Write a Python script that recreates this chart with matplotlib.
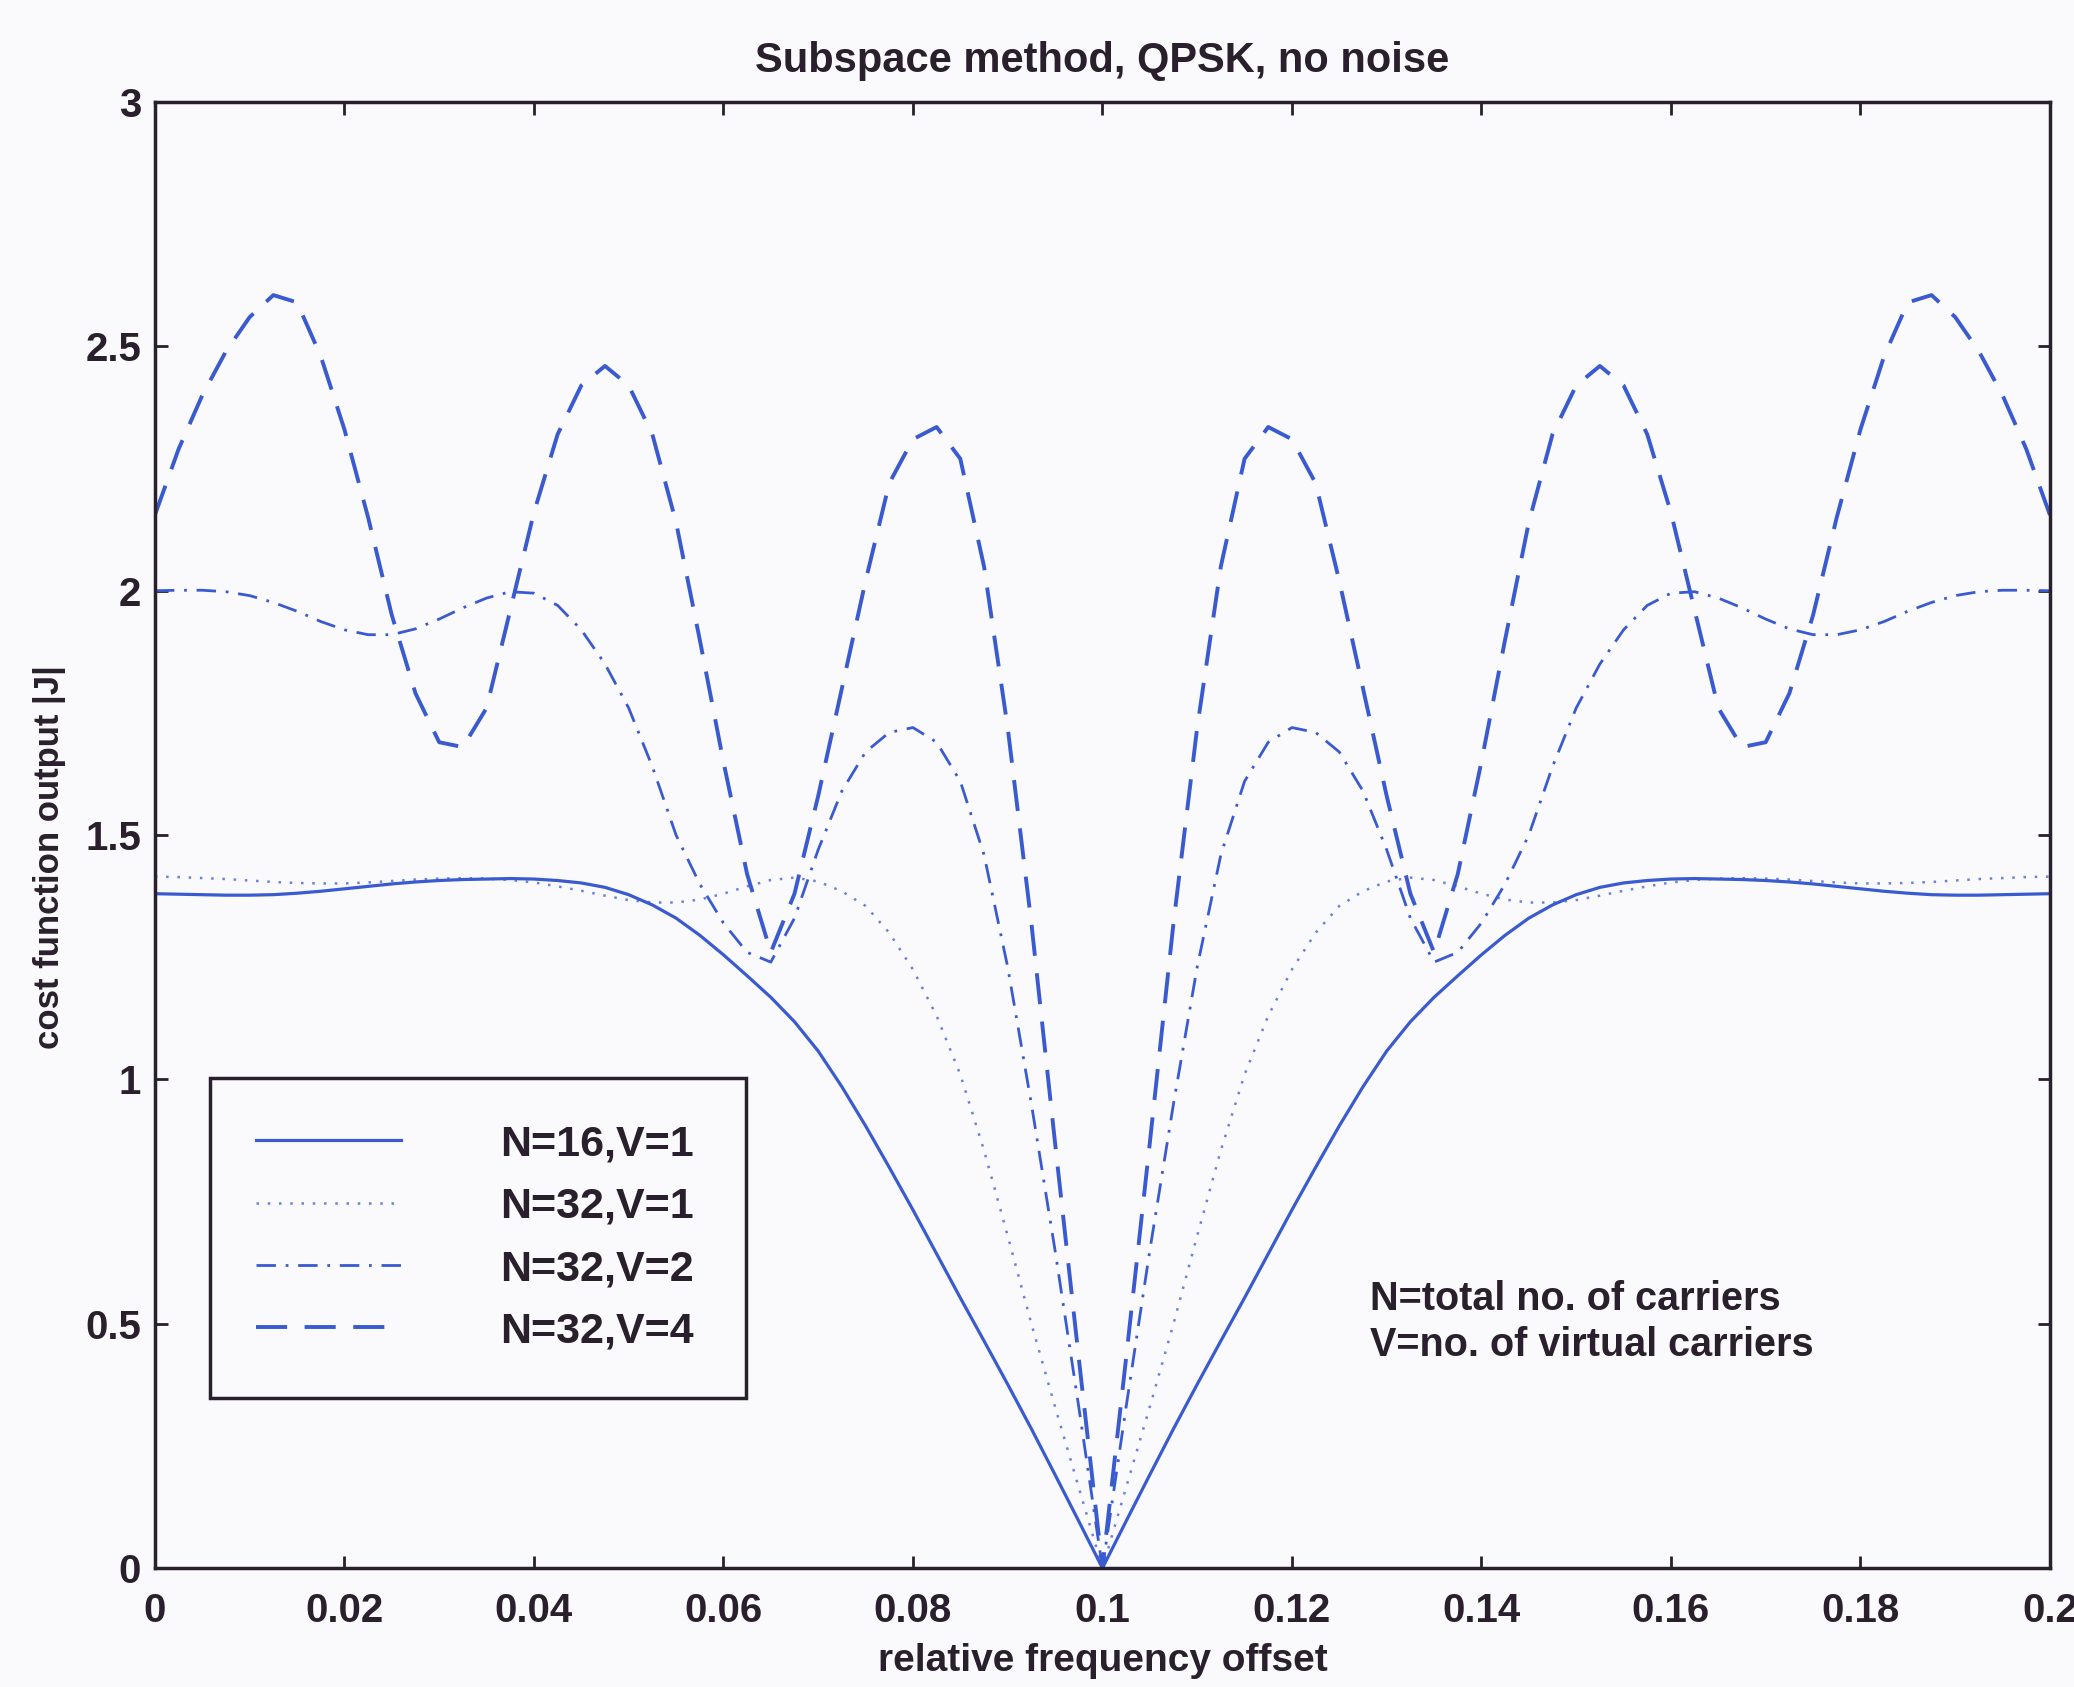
import matplotlib
matplotlib.use("Agg")
import matplotlib.pyplot as plt

# relative frequency offset grid
offset = [0.0, 0.0025, 0.005, 0.0075, 0.01, 0.0125, 0.015, 0.0175, 0.02, 0.0225,
          0.025, 0.0275, 0.03, 0.0325, 0.035, 0.0375, 0.04, 0.0425, 0.045, 0.0475,
          0.05, 0.0525, 0.055, 0.0575, 0.06, 0.0625, 0.065, 0.0675, 0.07, 0.0725,
          0.075, 0.0775, 0.08, 0.0825, 0.085, 0.0875, 0.09, 0.0925, 0.095, 0.0975,
          0.1, 0.1025, 0.105, 0.1075, 0.11, 0.1125, 0.115, 0.1175, 0.12, 0.1225,
          0.125, 0.1275, 0.13, 0.1325, 0.135, 0.1375, 0.14, 0.1425, 0.145, 0.1475,
          0.15, 0.1525, 0.155, 0.1575, 0.16, 0.1625, 0.165, 0.1675, 0.17, 0.1725,
          0.175, 0.1775, 0.18, 0.1825, 0.185, 0.1875, 0.19, 0.1925, 0.195, 0.1975,
          0.2]

n16_v1 = [1.380, 1.379, 1.378, 1.377, 1.377, 1.378, 1.381, 1.385, 1.390, 1.395,
          1.400, 1.404, 1.407, 1.409, 1.410, 1.411, 1.410, 1.407, 1.402, 1.393,
          1.378, 1.357, 1.330, 1.295, 1.255, 1.212, 1.168, 1.118, 1.058, 0.985,
          0.905, 0.820, 0.733, 0.643, 0.553, 0.465, 0.376, 0.285, 0.191, 0.096,
          0.000,
          0.096, 0.191, 0.285, 0.376, 0.465, 0.553, 0.643, 0.733, 0.820, 0.905,
          0.985, 1.058, 1.118, 1.168, 1.212, 1.255, 1.295, 1.330, 1.357, 1.378,
          1.393, 1.402, 1.407, 1.410, 1.411, 1.410, 1.409, 1.407, 1.404, 1.400,
          1.395, 1.390, 1.385, 1.381, 1.378, 1.377, 1.377, 1.378, 1.379, 1.380]

n32_v1 = [1.415, 1.414, 1.412, 1.410, 1.407, 1.404, 1.402, 1.401, 1.401, 1.403,
          1.406, 1.409, 1.411, 1.412, 1.411, 1.408, 1.403, 1.395, 1.386, 1.376,
          1.367, 1.362, 1.362, 1.368, 1.380, 1.395, 1.408, 1.413, 1.405, 1.385,
          1.355, 1.300, 1.225, 1.130, 1.010, 0.855, 0.680, 0.500, 0.330, 0.165,
          0.000,
          0.165, 0.330, 0.500, 0.680, 0.855, 1.010, 1.130, 1.225, 1.300, 1.355,
          1.385, 1.405, 1.413, 1.408, 1.395, 1.380, 1.368, 1.362, 1.362, 1.367,
          1.376, 1.386, 1.395, 1.403, 1.408, 1.411, 1.412, 1.411, 1.409, 1.406,
          1.403, 1.401, 1.401, 1.402, 1.404, 1.407, 1.410, 1.412, 1.414, 1.415]

n32_v2 = [2.000, 2.001, 2.001, 1.998, 1.990, 1.976, 1.958, 1.937, 1.920, 1.910,
          1.910, 1.922, 1.942, 1.965, 1.985, 1.998, 1.995, 1.970, 1.920, 1.850,
          1.760, 1.640, 1.500, 1.400, 1.320, 1.260, 1.240, 1.330, 1.470, 1.590,
          1.670, 1.710, 1.720, 1.690, 1.610, 1.460, 1.230, 0.950, 0.650, 0.330,
          0.000,
          0.330, 0.650, 0.950, 1.230, 1.460, 1.610, 1.690, 1.720, 1.710, 1.670,
          1.590, 1.470, 1.330, 1.240, 1.260, 1.320, 1.400, 1.500, 1.640, 1.760,
          1.850, 1.920, 1.970, 1.995, 1.998, 1.985, 1.965, 1.942, 1.922, 1.910,
          1.910, 1.920, 1.937, 1.958, 1.976, 1.990, 1.998, 2.001, 2.001, 2.000]

n32_v4 = [2.155, 2.290, 2.400, 2.490, 2.560, 2.605, 2.590, 2.480, 2.330, 2.150,
          1.950, 1.790, 1.690, 1.680, 1.760, 1.960, 2.160, 2.320, 2.420, 2.460,
          2.420, 2.320, 2.140, 1.900, 1.650, 1.420, 1.260, 1.380, 1.580, 1.800,
          2.020, 2.220, 2.310, 2.335, 2.270, 2.050, 1.720, 1.320, 0.870, 0.430,
          0.000,
          0.430, 0.870, 1.320, 1.720, 2.050, 2.270, 2.335, 2.310, 2.220, 2.020,
          1.800, 1.580, 1.380, 1.260, 1.420, 1.650, 1.900, 2.140, 2.320, 2.420,
          2.460, 2.420, 2.320, 2.160, 1.960, 1.760, 1.680, 1.690, 1.790, 1.950,
          2.150, 2.330, 2.480, 2.590, 2.605, 2.560, 2.490, 2.400, 2.290, 2.155]

labels = ["N=16,V=1", "N=32,V=1", "N=32,V=2", "N=32,V=4"]
xticks = [0, 0.02, 0.04, 0.06, 0.08, 0.1, 0.12, 0.14, 0.16, 0.18, 0.2]
xticklabels = ["0", "0.02", "0.04", "0.06", "0.08", "0.1", "0.12", "0.14", "0.16", "0.18", "0.2"]
yticks = [0, 0.5, 1, 1.5, 2, 2.5, 3]
yticklabels = ["0", "0.5", "1", "1.5", "2", "2.5", "3"]

plt.rcParams['font.family'] = ['Liberation Sans', 'DejaVu Sans']
bg = '#fafafc'
ink = '#2a1f2c'
blue = '#3a5ad0'

fig = plt.figure(figsize=(20.74, 16.87), dpi=100, facecolor=bg)
ax = fig.add_axes([0.0747, 0.0705, 0.9137, 0.869], facecolor=bg)

ax.plot(offset, n16_v1, color=blue, lw=2.3, label=labels[0])
ax.plot(offset, n32_v1, color=blue, lw=1.8, dashes=(1, 3.5), alpha=0.75, label=labels[1])
ax.plot(offset, n32_v2, color=blue, lw=2.0, dashes=(7, 3.5, 1, 3.5), label=labels[2])
ax.plot(offset, n32_v4, color=blue, lw=2.8, dashes=(8, 4.5), label=labels[3])

ax.set_xlim(0, 0.2)
ax.set_ylim(0, 3)
ax.set_xticks(xticks)
ax.set_xticklabels(xticklabels)
ax.set_yticks(yticks)
ax.set_yticklabels(yticklabels)
ax.tick_params(direction='in', length=9, width=2, colors=ink, labelsize=29,
               top=True, right=True, pad=10)
ax.tick_params(axis='x', pad=17)
for lbl in ax.get_xticklabels() + ax.get_yticklabels():
    lbl.set_fontweight('bold')
for sp in ax.spines.values():
    sp.set_color(ink)
    sp.set_linewidth(2.5)

ax.set_title("Subspace method, QPSK, no noise", fontsize=30, fontweight='bold',
             color=ink, pad=22)
ax.set_xlabel("relative frequency offset", fontsize=28, fontweight='bold', color=ink)
ax.set_ylabel("cost function output |J|", fontsize=25, fontweight='bold', color=ink)
ax.xaxis.set_label_coords(0.5, -0.051)
ax.yaxis.set_label_coords(-0.047, 0.485)

leg = ax.legend(loc='lower left', bbox_to_anchor=(0.029, 0.116, 0.283, 0.225),
                mode='expand', fontsize=31, handlelength=3.35, handletextpad=2.3,
                labelspacing=0.52, borderpad=1.08, fancybox=False, framealpha=1,
                facecolor=bg, edgecolor=ink, borderaxespad=0)
leg.get_frame().set_linewidth(2.5)
for t in leg.get_texts():
    t.set_fontweight('bold')
    t.set_color(ink)

ax.text(0.641, 0.168, "N=total no. of carriers\nV=no. of virtual carriers",
        transform=ax.transAxes, fontsize=28.5, fontweight='bold', color=ink,
        va='center', ha='left', linespacing=1.25)

fig.savefig("out.png", dpi=100, facecolor=bg)
